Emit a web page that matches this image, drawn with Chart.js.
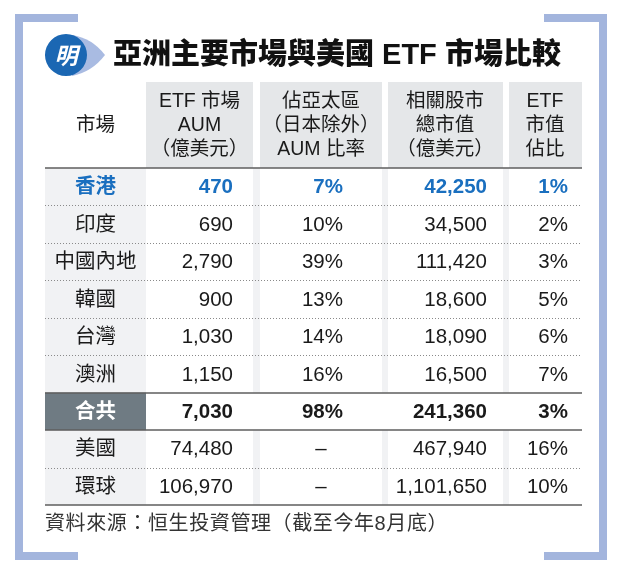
<!DOCTYPE html>
<html><head><meta charset="utf-8">
<script src="https://cdn.jsdelivr.net/npm/chart.js@4"></script>
<style>html,body{margin:0;padding:0;background:#fff}canvas{display:block}</style>
</head><body>
<canvas id="c" width="622" height="575"></canvas>
<script>
// ---- data ----
const title = '亞洲主要市場與美國 ETF 市場比較';
const source = '資料來源：恒生投資管理（截至今年8月底）';
const headers = [
  ['市場'],
  ['ETF 市場', 'AUM', '（億美元）'],
  ['佔亞太區', '（日本除外）', 'AUM 比率'],
  ['相關股市', '總市值', '（億美元）'],
  ['ETF', '市值', '佔比']
];
const markets = ['香港', '印度', '中國內地', '韓國', '台灣', '澳洲', '合共', '美國', '環球'];
const etfAum = [470, 690, 2790, 900, 1030, 1150, 7030, 74480, 106970];
const apacShare = [7, 10, 39, 13, 14, 16, 98, null, null];
const marketCap = [42250, 34500, 111420, 18600, 18090, 16500, 241360, 467940, 1101650];
const etfShare = [1, 2, 3, 5, 6, 7, 3, 16, 10];
const highlightRow = '香港';
const totalRow = '合共';

// ---- layout (x-scale units) ----
const colEdges = [[45,146],[146,253],[260,382],[388,503],[509,582]];
const textAnchor = [{x:95.5,a:'center'},{x:233,a:'right'},{x:343,a:'right'},{x:487,a:'right'},{x:568,a:'right'}];
const headCenter = [95.5, 199.5, 321, 445, 545];

const fmt = v => v.toLocaleString('en-US');
const FONT = '"Liberation Sans","Noto Sans CJK TC",sans-serif';

function cellText(col, i) {
  if (col === 0) return markets[i];
  if (col === 1) return fmt(etfAum[i]);
  if (col === 2) return apacShare[i] == null ? '–' : apacShare[i] + '%';
  if (col === 3) return fmt(marketCap[i]);
  return etfShare[i] + '%';
}

const tablePlugin = {
  id: 'table',
  beforeDraw(chart) {
    const ctx = chart.ctx, xs = chart.scales.x, ys = chart.scales.y;
    const ca = chart.chartArea;
    ctx.save();
    ctx.fillStyle = '#fff';
    ctx.fillRect(0, 0, chart.width, chart.height);
    // frame brackets
    ctx.fillStyle = '#a3b5dd';
    ctx.fillRect(15, 14, 8, 546);
    ctx.fillRect(15, 14, 63, 8);
    ctx.fillRect(15, 552, 63, 8);
    ctx.fillRect(599, 14, 8, 546);
    ctx.fillRect(544, 14, 63, 8);
    ctx.fillRect(544, 552, 63, 8);
    // icon
    ctx.fillStyle = '#a9bbe2';
    ctx.beginPath();
    ctx.moveTo(72, 35);
    ctx.quadraticCurveTo(92, 38, 105, 55);
    ctx.quadraticCurveTo(92, 72, 72, 76);
    ctx.closePath();
    ctx.fill();
    ctx.fillStyle = '#1b67b3';
    ctx.beginPath();
    ctx.arc(66, 55, 21, Math.PI * 0.75, Math.PI * 0.75 + Math.PI * 2 - 0.0001, false);
    ctx.lineTo(45, 77);
    ctx.closePath();
    ctx.fill();
    ctx.fillStyle = '#fff';
    ctx.font = 'italic bold 23px "Noto Sans CJK TC"';
    ctx.textAlign = 'center'; ctx.textBaseline = 'middle';
    ctx.fillText('明', 66, 55);
    // title
    ctx.fillStyle = '#111';
    ctx.font = '900 29px ' + FONT;
    ctx.textAlign = 'left';
    ctx.fillText(title, 113, 56);

    // header backgrounds
    const hTop = 82, hBot = ca.top;
    ctx.fillStyle = '#e5e7e9';
    for (let c = 1; c < colEdges.length; c++) {
      const l = xs.getPixelForValue(colEdges[c][0]), r = xs.getPixelForValue(colEdges[c][1]);
      ctx.fillRect(l, hTop, r - l, hBot - hTop);
    }
    // body backgrounds
    const n = markets.length;
    const rowH = (ys.getPixelForValue(1) - ys.getPixelForValue(0));
    ctx.fillStyle = '#f1f2f4';
    {
      const l = xs.getPixelForValue(colEdges[0][0]), r = xs.getPixelForValue(colEdges[0][1]);
      ctx.fillRect(l, ca.top, r - l, ca.bottom - ca.top);
    }
    for (let c = 1; c < colEdges.length - 1; c++) {
      const l = xs.getPixelForValue(colEdges[c][1]), r = xs.getPixelForValue(colEdges[c + 1][0]);
      ctx.fillRect(l, ca.top, r - l, ca.bottom - ca.top);
    }
    const ti = markets.indexOf(totalRow);
    if (ti >= 0) {
      const yc = ys.getPixelForValue(ti);
      ctx.fillStyle = '#fff';
      ctx.fillRect(xs.getPixelForValue(colEdges[1][0]), yc - rowH / 2, xs.getPixelForValue(colEdges[4][1]) - xs.getPixelForValue(colEdges[1][0]), rowH);
      ctx.fillStyle = '#6f7b83';
      ctx.fillRect(xs.getPixelForValue(colEdges[0][0]), yc - rowH / 2, xs.getPixelForValue(colEdges[0][1]) - xs.getPixelForValue(colEdges[0][0]), rowH);
    }
    // header text
    ctx.fillStyle = '#1a1a1a';
    ctx.font = '19.5px ' + FONT;
    ctx.textAlign = 'center';
    const lineYs = [102, 126, 150];
    headers.forEach((lines, c) => {
      const x = xs.getPixelForValue(headCenter[c]);
      if (lines.length === 1) ctx.fillText(lines[0], x, 126);
      else lines.forEach((t, k) => ctx.fillText(t, x, lineYs[k]));
    });
    // row lines
    const L = xs.getPixelForValue(colEdges[0][0]), R = xs.getPixelForValue(colEdges[4][1]);
    const hline = (y, solid) => {
      ctx.beginPath();
      if (solid) { ctx.setLineDash([]); ctx.strokeStyle = '#5e5e5e'; ctx.lineWidth = 1.5; }
      else { ctx.setLineDash([1, 2]); ctx.strokeStyle = '#8a8a8a'; ctx.lineWidth = 1; }
      ctx.moveTo(L, y); ctx.lineTo(R, y); ctx.stroke();
    };
    for (let i = 0; i <= n; i++) {
      const y = ys.getPixelForValue(0) - rowH / 2 + i * rowH;
      const solid = i === 0 || i === n || i === ti || i === ti + 1;
      hline(Math.round(y) + (solid ? 0 : 0.5), solid);
    }
    ctx.setLineDash([]);
    // body text
    for (let i = 0; i < n; i++) {
      const y = ys.getPixelForValue(i) + 1;
      const isHK = markets[i] === highlightRow, isTot = markets[i] === totalRow;
      for (let c = 0; c < 5; c++) {
        const t = cellText(c, i);
        ctx.font = ((isHK || isTot) ? 'bold ' : '') + '20.5px ' + FONT;
        ctx.fillStyle = isHK ? '#1a6fbf' : (isTot && c === 0 ? '#fff' : '#1a1a1a');
        if (t === '–') { ctx.textAlign = 'center'; ctx.fillText(t, xs.getPixelForValue(headCenter[c]), y); continue; }
        ctx.textAlign = textAnchor[c].a;
        ctx.fillText(t, xs.getPixelForValue(textAnchor[c].x), y);
      }
    }
    // source
    ctx.fillStyle = '#333';
    ctx.font = '20px ' + FONT;
    ctx.letterSpacing = '0.6px';
    ctx.textAlign = 'left';
    ctx.fillText(source, 45, 524);
    ctx.letterSpacing = '0px';
    ctx.restore();
  }
};

new Chart(document.getElementById('c'), {
  type: 'bar',
  data: { labels: markets, datasets: [{ label: 'ETF市場AUM', data: [], backgroundColor: 'rgba(0,0,0,0)' }] },
  options: {
    responsive: false, animation: false, indexAxis: 'y',
    layout: { padding: { left: 45, right: 40, top: 168, bottom: 70 } },
    scales: {
      x: { type: 'linear', min: 45, max: 582, display: false },
      y: { type: 'category', display: false, offset: true }
    },
    plugins: { legend: { display: false }, tooltip: { enabled: false }, title: { display: false } }
  },
  plugins: [tablePlugin]
});
</script>
</body></html>
